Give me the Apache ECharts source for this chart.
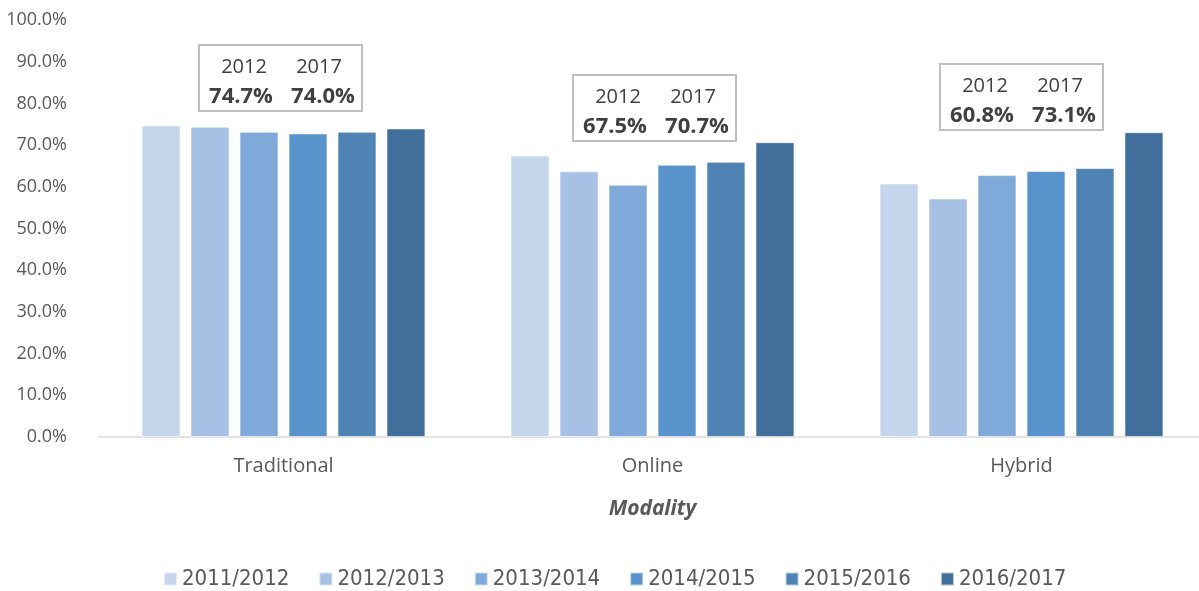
<!DOCTYPE html>
<html>
<head>
<meta charset="utf-8">
<script src="https://cdn.jsdelivr.net/npm/echarts@6/dist/echarts.min.js"></script>
<style>
  html, body { margin: 0; padding: 0; background: #fff; }
  #main { width: 1199px; height: 591px; }
</style>
</head>
<body>
<div id="main"></div>
<script>
  var categories = ['Traditional', 'Online', 'Hybrid']
  var years = ['2011/2012', '2012/2013', '2013/2014', '2014/2015', '2015/2016', '2016/2017']
  var colors = ['#C5D5EB', '#A6C1E4', '#7EA9D9', '#5894CB', '#4E83B4', '#416F9C']

  // one array per school year: Traditional, Online, Hybrid
  var y2011 = [74.7, 67.5, 60.8]
  var y2012 = [74.4, 63.7, 57.2]
  var y2013 = [73.2, 60.5, 62.8]
  var y2014 = [72.8, 65.3, 63.8]
  var y2015 = [73.2, 66.0, 64.5]
  var y2016 = [74.0, 70.7, 73.1]
  var yearValues = [y2011, y2012, y2013, y2014, y2015, y2016]

  // annotation boxes (left, top) per category
  var boxPos = [[198, 44], [572, 74], [939, 63]]

  var chart = echarts.init(document.getElementById('main'))

  var series = years.map(function (name, i) {
    return {
      name: name,
      type: 'bar',
      barWidth: 39,
      barGap: '25.6%',
      itemStyle: {
        color: colors[i],
        borderColor: 'rgba(255,255,255,0.6)',
        borderWidth: 1
      },
      data: yearValues[i]
    }
  })

  var boxes = categories.map(function (c, k) {
    var first = y2011[k].toFixed(1) + '%'
    var last = y2016[k].toFixed(1) + '%'
    return {
      type: 'group',
      left: boxPos[k][0],
      top: boxPos[k][1],
      children: [
        {type: 'rect', shape: {x: 0, y: 0, width: 163, height: 66},
          style: {fill: '#fff', stroke: '#BFBFBF', lineWidth: 2}},
        {type: 'text', x: 45, y: 22, style: {text: '2012', fill: '#404040', font: '20px "Open Sans"', align: 'center', verticalAlign: 'middle'}},
        {type: 'text', x: 120, y: 22, style: {text: '2017', fill: '#404040', font: '20px "Open Sans"', align: 'center', verticalAlign: 'middle'}},
        {type: 'text', x: 42, y: 52, style: {text: first, fill: '#404040', font: 'bold 22px "Open Sans"', align: 'center', verticalAlign: 'middle'}},
        {type: 'text', x: 124, y: 52, style: {text: last, fill: '#404040', font: 'bold 22px "Open Sans"', align: 'center', verticalAlign: 'middle'}}
      ]
    }
  })

  chart.setOption({
    animation: false,
    textStyle: {fontFamily: '"Open Sans"'},
    grid: {left: 99, width: 1107, top: 20, height: 417, outerBoundsMode: 'none', containLabel: false},
    legend: {
      data: years,
      bottom: -4,
      left: 158,
      itemWidth: 13,
      itemHeight: 13,
      itemGap: 29,
      icon: 'rect',
      textStyle: {color: '#595959', fontSize: 22, fontFamily: '"Liberation Sans Narrow", "DejaVu Sans Condensed", sans-serif'}
    },
    xAxis: {
      type: 'category',
      data: categories,
      name: 'Modality',
      nameLocation: 'middle',
      nameGap: 62,
      nameTextStyle: {color: '#595959', fontSize: 21, fontWeight: 'bold', fontStyle: 'italic'},
      axisLine: {lineStyle: {color: '#D9D9D9', width: 1.5}},
      axisTick: {show: false},
      axisLabel: {color: '#595959', fontSize: 20, margin: 19}
    },
    yAxis: {
      type: 'value',
      min: 0,
      max: 100,
      interval: 10,
      splitLine: {show: false},
      axisLine: {show: false},
      axisTick: {show: false},
      axisLabel: {
        color: '#595959',
        fontSize: 18,
        margin: 32,
        formatter: function (v) { return v.toFixed(1) + '%' }
      }
    },
    graphic: boxes,
    series: series
  })
</script>
</body>
</html>
